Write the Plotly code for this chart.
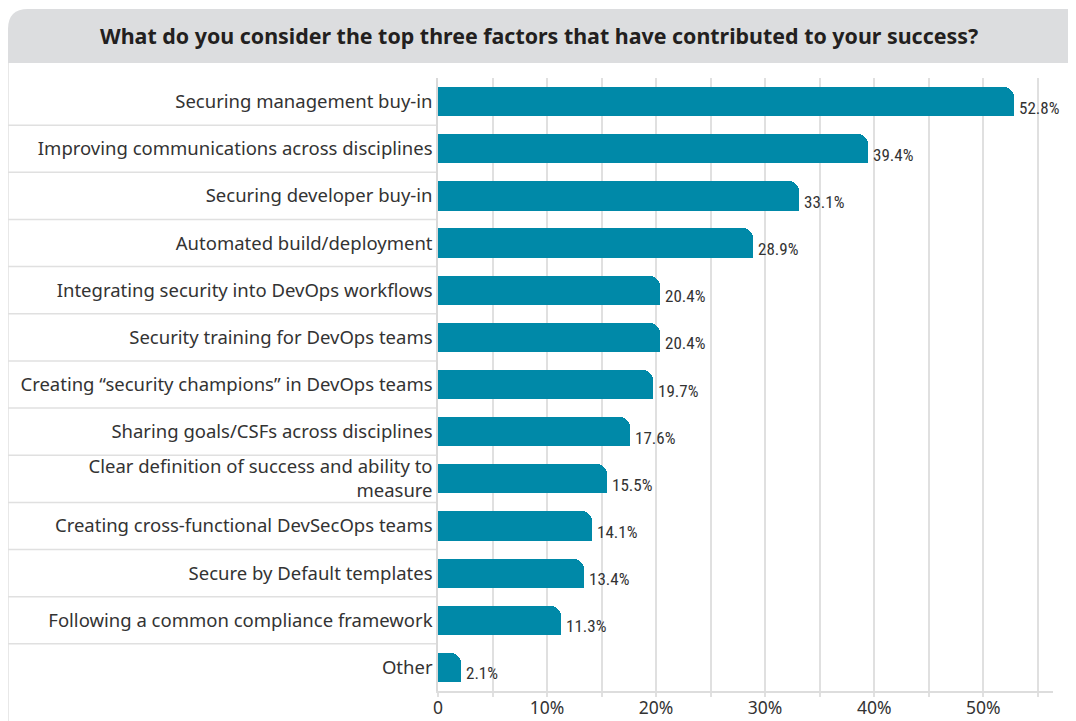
import plotly.graph_objects as go

categories = [
    "Securing management buy-in",
    "Improving communications across disciplines",
    "Securing developer buy-in",
    "Automated build/deployment",
    "Integrating security into DevOps workflows",
    "Security training for DevOps teams",
    "Creating \u201csecurity champions\u201d in DevOps teams",
    "Sharing goals/CSFs across disciplines",
    "Clear definition of success and ability to<br>measure",
    "Creating cross-functional DevSecOps teams",
    "Secure by Default templates",
    "Following a common compliance framework",
    "Other",
]
values = [52.8, 39.4, 33.1, 28.9, 20.4, 20.4, 19.7, 17.6, 15.5, 14.1, 13.4, 11.3, 2.1]
value_labels = [f"{v:.1f}%" for v in values]
tick_values = [0, 5, 10, 15, 20, 25, 30, 35, 40, 45, 50, 55]
tick_labels = ["0", "", "10%", "", "20%", "", "30%", "", "40%", "", "50%", ""]
title_text = "What do you consider the top three factors that have contributed to your success?"

# page body has an 8px margin, so figure pixel = screen pixel - 8
OFF = 8
W, H = 1068, 713
L, R, T, B = 430, 23, 70, 30
TEAL = "#0089a8"
GRID = "#e0e0e0"
TEXT = "#333333"
LABEL_FONT = "Noto Sans, Open Sans, sans-serif"
NARROW_FONT = "Roboto Condensed, Roboto, sans-serif"


def px(x):
    return (x - OFF - L) / (W - L - R)


def py(y):
    return (H - B - (y - OFF)) / (H - T - B)


fig = go.Figure()
fig.add_trace(go.Bar(
    x=values, y=categories, orientation="h", width=0.62,
    marker=dict(color=TEAL, cornerradius=10, line=dict(width=0)),
    hoverinfo="skip", showlegend=False,
))
# square off the bottom-right corner
fig.add_trace(go.Bar(
    x=values, y=categories, orientation="h", width=0.31, offset=0,
    marker=dict(color=TEAL, line=dict(width=0)),
    hoverinfo="skip", showlegend=False,
))

annotations = []
for cat, v, lab in zip(categories, values, value_labels):
    annotations.append(dict(
        x=v, y=cat, xref="x", yref="y", text=lab, showarrow=False,
        xanchor="left", yanchor="middle", xshift=3, yshift=-6,
        font=dict(family=NARROW_FONT, size=17, color=TEXT),
    ))
annotations.append(dict(
    x=px(539), y=py(35), xref="paper", yref="paper", text="<b>" + title_text + "</b>",
    showarrow=False, xanchor="center", yanchor="middle",
    font=dict(family=LABEL_FONT, size=21.4, color="#231f20"),
))

shapes = []
# header with rounded top-left corner (screen pixel coordinates)
x0, x1, yt, yb, r = 8, 1070, 9, 63, 20
path = (f"M {px(x0)},{py(yb)} L {px(x0)},{py(yt + r)} "
        f"Q {px(x0)},{py(yt)} {px(x0 + r)},{py(yt)} "
        f"L {px(x1)},{py(yt)} L {px(x1)},{py(yb)} Z")
shapes.append(dict(type="path", xref="paper", yref="paper", path=path,
                   fillcolor="#dcdddf", line=dict(width=0), layer="below"))
# panel side borders
for xb in (x0, x1):
    shapes.append(dict(type="line", xref="paper", yref="paper",
                       x0=px(xb), x1=px(xb), y0=py(yb), y1=py(730),
                       line=dict(color=GRID, width=1.5), layer="below"))
# row separators in the label column
for i in range(len(categories) - 1):
    shapes.append(dict(type="line", xref="paper", yref="y",
                       x0=px(x0), x1=0, y0=i + 0.5, y1=i + 0.5,
                       line=dict(color=GRID, width=1.5), layer="below"))

fig.update_layout(
    width=W, height=H,
    margin=dict(l=L, r=R, t=T, b=B, pad=0, autoexpand=False),
    paper_bgcolor="white", plot_bgcolor="white",
    barmode="overlay", bargap=0,
    showlegend=False,
    annotations=annotations, shapes=shapes,
    xaxis=dict(
        range=[0, 56.4], tickmode="array", tickvals=tick_values, ticktext=tick_labels,
        showgrid=True, gridcolor=GRID, gridwidth=1.5,
        showline=True, linecolor="#dddddd", linewidth=2,
        ticks="outside", ticklen=4, tickcolor=GRID, tickwidth=1.5,
        ticklabelstandoff=-4,
        tickfont=dict(family=LABEL_FONT, size=17.5, color=TEXT),
        zeroline=False, fixedrange=True, automargin=False,
    ),
    yaxis=dict(
        autorange="reversed", showgrid=False,
        showline=True, linecolor="#d9d9d9", linewidth=1.5,
        ticks="", ticklabelstandoff=0,
        tickfont=dict(family=LABEL_FONT, size=18.5, color=TEXT),
        fixedrange=True, automargin=False,
    ),
)

fig.write_html("out.html")
